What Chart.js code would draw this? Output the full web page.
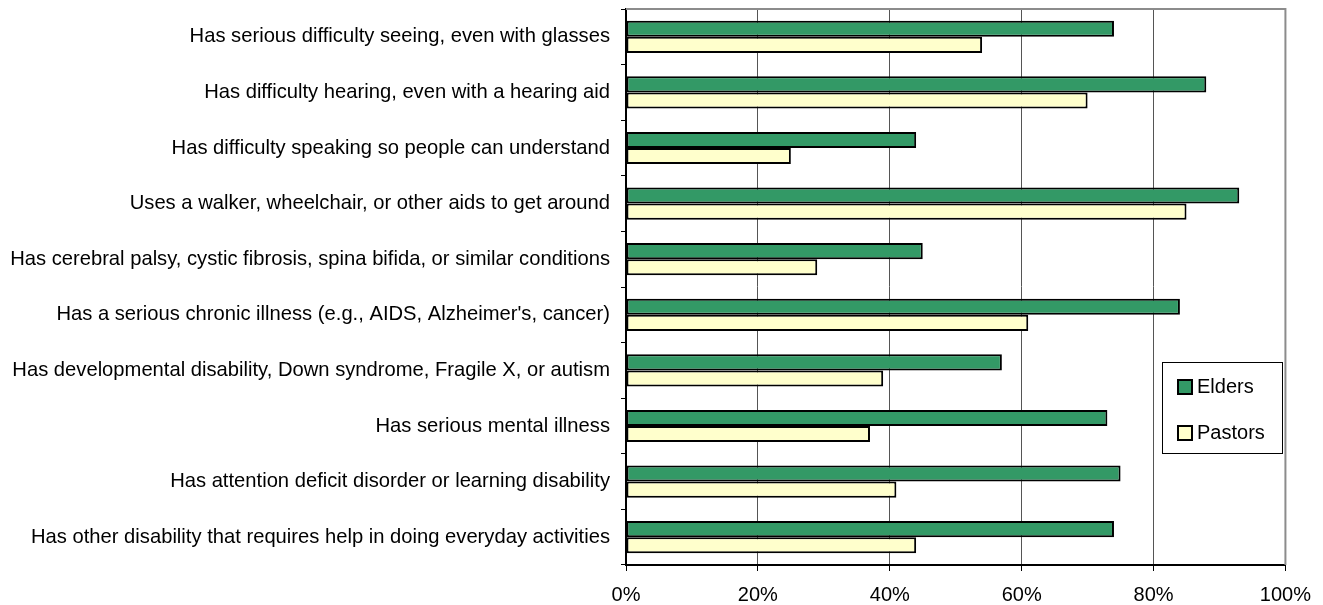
<!DOCTYPE html>
<html>
<head>
<meta charset="utf-8">
<script src="https://cdn.jsdelivr.net/npm/chart.js@4/dist/chart.umd.min.js"></script>
<style>
  html, body { margin: 0; padding: 0; background: #fff; }
  #wrap { width: 1323px; height: 605px; }
</style>
</head>
<body>
<div id="wrap"><canvas id="myChart" width="1323" height="605"></canvas></div>
<script>
// Datos
const categorias = [
  "Has serious difficulty seeing, even with glasses",
  "Has difficulty hearing, even with a hearing aid",
  "Has difficulty speaking so people can understand",
  "Uses a walker, wheelchair, or other aids to get around",
  "Has cerebral palsy, cystic fibrosis, spina bifida, or similar conditions",
  "Has a serious chronic illness (e.g., AIDS, Alzheimer's, cancer)",
  "Has developmental disability, Down syndrome, Fragile X, or autism",
  "Has serious mental illness",
  "Has attention deficit disorder or learning disability",
  "Has other disability that requires help in doing everyday activities"
];
const elders = [74, 88, 44, 93, 45, 84, 57, 73, 75, 74];
const pastors = [54, 70, 25, 85, 29, 61, 39, 37, 41, 44];
const ticksX = [0, 20, 40, 60, 80, 100];

const fuente = "'Liberation Sans', Arial, sans-serif";

// marco gris arriba y a la derecha + leyenda dentro del grafico
const marco = {
  id: 'marco',
  afterDraw(chart) {
    const c = chart.ctx, a = chart.chartArea;
    c.save();
    c.strokeStyle = '#8c8c8c';
    c.lineWidth = 2;
    c.beginPath();
    c.moveTo(a.left, a.top);
    c.lineTo(a.right, a.top);
    c.lineTo(a.right, a.bottom);
    c.stroke();

    // leyenda
    const x0 = 1162, y0 = 362, w = 120, h = 91;
    c.fillStyle = '#fff';
    c.fillRect(x0, y0, w, h);
    c.strokeStyle = '#000';
    c.lineWidth = 1;
    c.strokeRect(x0 + 0.5, y0 + 0.5, w, h);
    c.font = '20px ' + fuente;
    c.textBaseline = 'middle';
    chart.data.datasets.forEach((ds, i) => {
      const yy = y0 + 25 + i * 46;
      c.fillStyle = ds.backgroundColor;
      c.fillRect(x0 + 16, yy - 7, 14, 14);
      c.strokeStyle = '#000';
      c.lineWidth = 2;
      c.strokeRect(x0 + 16, yy - 7, 14, 14);
      c.fillStyle = '#000';
      c.fillText(ds.label, x0 + 35, yy);
    });
    c.restore();
  }
};

const ctx = document.getElementById('myChart').getContext('2d');
const myChart = new Chart(ctx, {
  type: 'bar',
  data: {
    labels: categorias,
    datasets: [{
      label: 'Elders',
      data: elders,
      backgroundColor: '#339966',
      borderColor: '#000',
      borderWidth: 2,
      borderSkipped: false
    }, {
      label: 'Pastors',
      data: pastors,
      backgroundColor: '#ffffcc',
      borderColor: '#000',
      borderWidth: 2,
      borderSkipped: false
    }]
  },
  options: {
    indexAxis: 'y',
    responsive: false,
    animation: false,
    layout: { padding: { top: 9, right: 37, left: 0, bottom: 0 } },
    datasets: { bar: { categoryPercentage: 0.58, barPercentage: 1 } },
    plugins: {
      legend: { display: false },
      tooltip: { enabled: false }
    },
    scales: {
      x: {
        min: 0,
        max: 100,
        afterBuildTicks: s => { s.ticks = ticksX.map(v => ({ value: v })); },
        afterFit: s => { s.height = 40; },
        ticks: {
          callback: v => v + '%',
          color: '#000',
          font: { family: fuente, size: 20 },
          padding: 12,
          maxRotation: 0
        },
        grid: { color: '#555', lineWidth: 1, tickColor: '#000', tickLength: 6 },
        border: { color: '#000', width: 2 }
      },
      y: {
        afterFit: s => { s.width = 626; s.paddingTop = 0; s.paddingBottom = 0; },
        ticks: {
          color: '#000',
          font: { family: fuente, size: 20.2 },
          padding: 11,
          autoSkip: false
        },
        grid: { drawOnChartArea: false, color: '#000', tickLength: 5, offset: true },
        border: { color: '#000', width: 2 }
      }
    }
  },
  plugins: [marco]
});
</script>
</body>
</html>
